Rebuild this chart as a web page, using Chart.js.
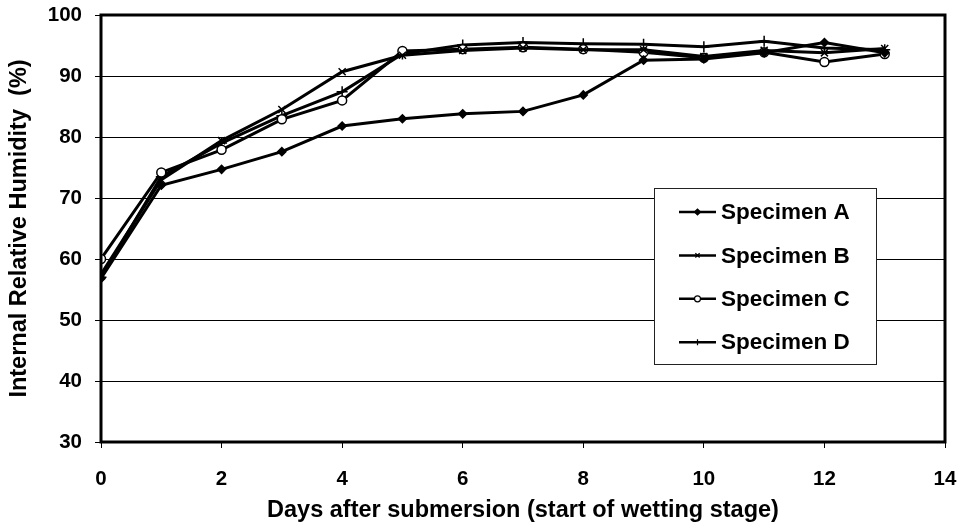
<!DOCTYPE html>
<html>
<head>
<meta charset="utf-8">
<script src="https://cdn.jsdelivr.net/npm/chart.js@4/dist/chart.umd.min.js"></script>
<style>
  html, body { margin: 0; padding: 0; background: #fff; }
</style>
</head>
<body>
<canvas id="chart" width="961" height="529"></canvas>
<script>
const days = [0, 1, 2, 3, 4, 5, 6, 7, 8, 9, 10, 11, 12, 13];
const specimenA = [56.8, 72.1, 74.7, 77.6, 81.8, 83.0, 83.8, 84.2, 86.9, 92.6, 92.8, 93.8, 95.5, 93.8];
const specimenB = [57.5, 73.0, 79.4, 84.5, 90.7, 93.4, 94.2, 94.6, 94.3, 94.3, 93.2, 94.2, 93.8, 94.5];
const specimenC = [60.0, 74.2, 77.9, 82.9, 86.0, 94.1, 94.4, 94.7, 94.4, 93.9, 93.0, 93.9, 92.3, 93.6];
const specimenD = [57.0, 73.5, 79.0, 83.5, 87.4, 93.6, 95.1, 95.5, 95.3, 95.2, 94.8, 95.7, 94.6, 94.3];
const seriesNames = ["Specimen A", "Specimen B", "Specimen C", "Specimen D"];
const xTitle = "Days after submersion (start of wetting stage)";
const yTitle = "Internal Relative Humidity  (%)";

const FONT = "'Liberation Sans', Arial, sans-serif";

function series(label, values, pointStyle, radius, fill) {
  return {
    label,
    data: values.map((v, i) => ({ x: days[i], y: v })),
    borderColor: "#000",
    borderWidth: 3,
    pointStyle,
    pointRadius: radius,
    pointBorderWidth: 1.5,
    pointBorderColor: "#000",
    pointBackgroundColor: fill,
    tension: 0,
  };
}

// plot frame + legend box drawn inside the plot area
const frameAndLegend = {
  id: "frameAndLegend",
  afterDatasetsDraw(chart) {
    const { ctx, chartArea: a } = chart;
    ctx.save();
    ctx.strokeStyle = "#000";
    ctx.lineWidth = 3;
    ctx.strokeRect(a.left, a.top, a.right - a.left, a.bottom - a.top);

    const bx = 654, by = 188, bw = 222, bh = 176;
    ctx.fillStyle = "#fff";
    ctx.fillRect(bx, by, bw, bh);
    ctx.lineWidth = 1;
    ctx.strokeStyle = "#222";
    ctx.strokeRect(bx + 0.5, by + 0.5, bw, bh);

    chart.data.datasets.forEach((ds, i) => {
      const y = 212 + i * 43.4;
      ctx.strokeStyle = "#000";
      ctx.lineWidth = 2.5;
      ctx.beginPath();
      ctx.moveTo(679, y);
      ctx.lineTo(716, y);
      ctx.stroke();
      ctx.fillStyle = ds.pointBackgroundColor;
      ctx.lineWidth = 1.2;
      Chart.helpers.drawPoint(ctx, { pointStyle: ds.pointStyle, radius: 3, borderWidth: 1.2 }, 697.5, y);
      ctx.fillStyle = "#000";
      ctx.font = "bold 22.5px " + FONT;
      ctx.textBaseline = "middle";
      ctx.textAlign = "left";
      ctx.fillText(ds.label, 721, y + 1);
    });
    ctx.restore();
  }
};

new Chart(document.getElementById("chart"), {
  type: "line",
  data: {
    datasets: [
      series(seriesNames[0], specimenA, "rectRot", 4, "#000"),
      series(seriesNames[1], specimenB, "crossRot", 5, "#000"),
      series(seriesNames[2], specimenC, "circle", 4.5, "#fff"),
      series(seriesNames[3], specimenD, "cross", 5.5, "#000"),
    ],
  },
  options: {
    responsive: false,
    animation: false,
    layout: { padding: { top: 15, right: 16, left: 0, bottom: 0 } },
    plugins: { legend: { display: false }, tooltip: { enabled: false } },
    scales: {
      x: {
        type: "linear",
        min: 0,
        max: 14,
        ticks: { stepSize: 2, color: "#000", padding: 19, maxRotation: 0, font: { family: FONT, size: 20.5, weight: "bold" } },
        grid: { drawOnChartArea: false, drawTicks: true, tickLength: 6, color: "#000", lineWidth: 1 },
        border: { display: false },
        title: { display: true, text: xTitle, color: "#000", padding: { top: 0, bottom: 4 }, font: { family: FONT, size: 23.5, weight: "bold" } },
        afterFit(scale) {
          scale.height = 87;
          scale.paddingLeft = 0;
          scale.paddingRight = 0;
        },
      },
      y: {
        min: 30,
        max: 100,
        ticks: { stepSize: 10, color: "#000", padding: 13, font: { family: FONT, size: 20.5, weight: "bold" } },
        grid: { color: "#000", lineWidth: 1, tickLength: 6 },
        border: { display: false },
        title: { display: true, text: yTitle, color: "#000", padding: { top: 5, bottom: 0 }, font: { family: FONT, size: 23.5, weight: "bold" } },
        afterFit(scale) {
          scale.width = 101;
          scale.paddingTop = 0;
          scale.paddingBottom = 0;
        },
      },
    },
  },
  plugins: [frameAndLegend],
});
</script>
</body>
</html>
